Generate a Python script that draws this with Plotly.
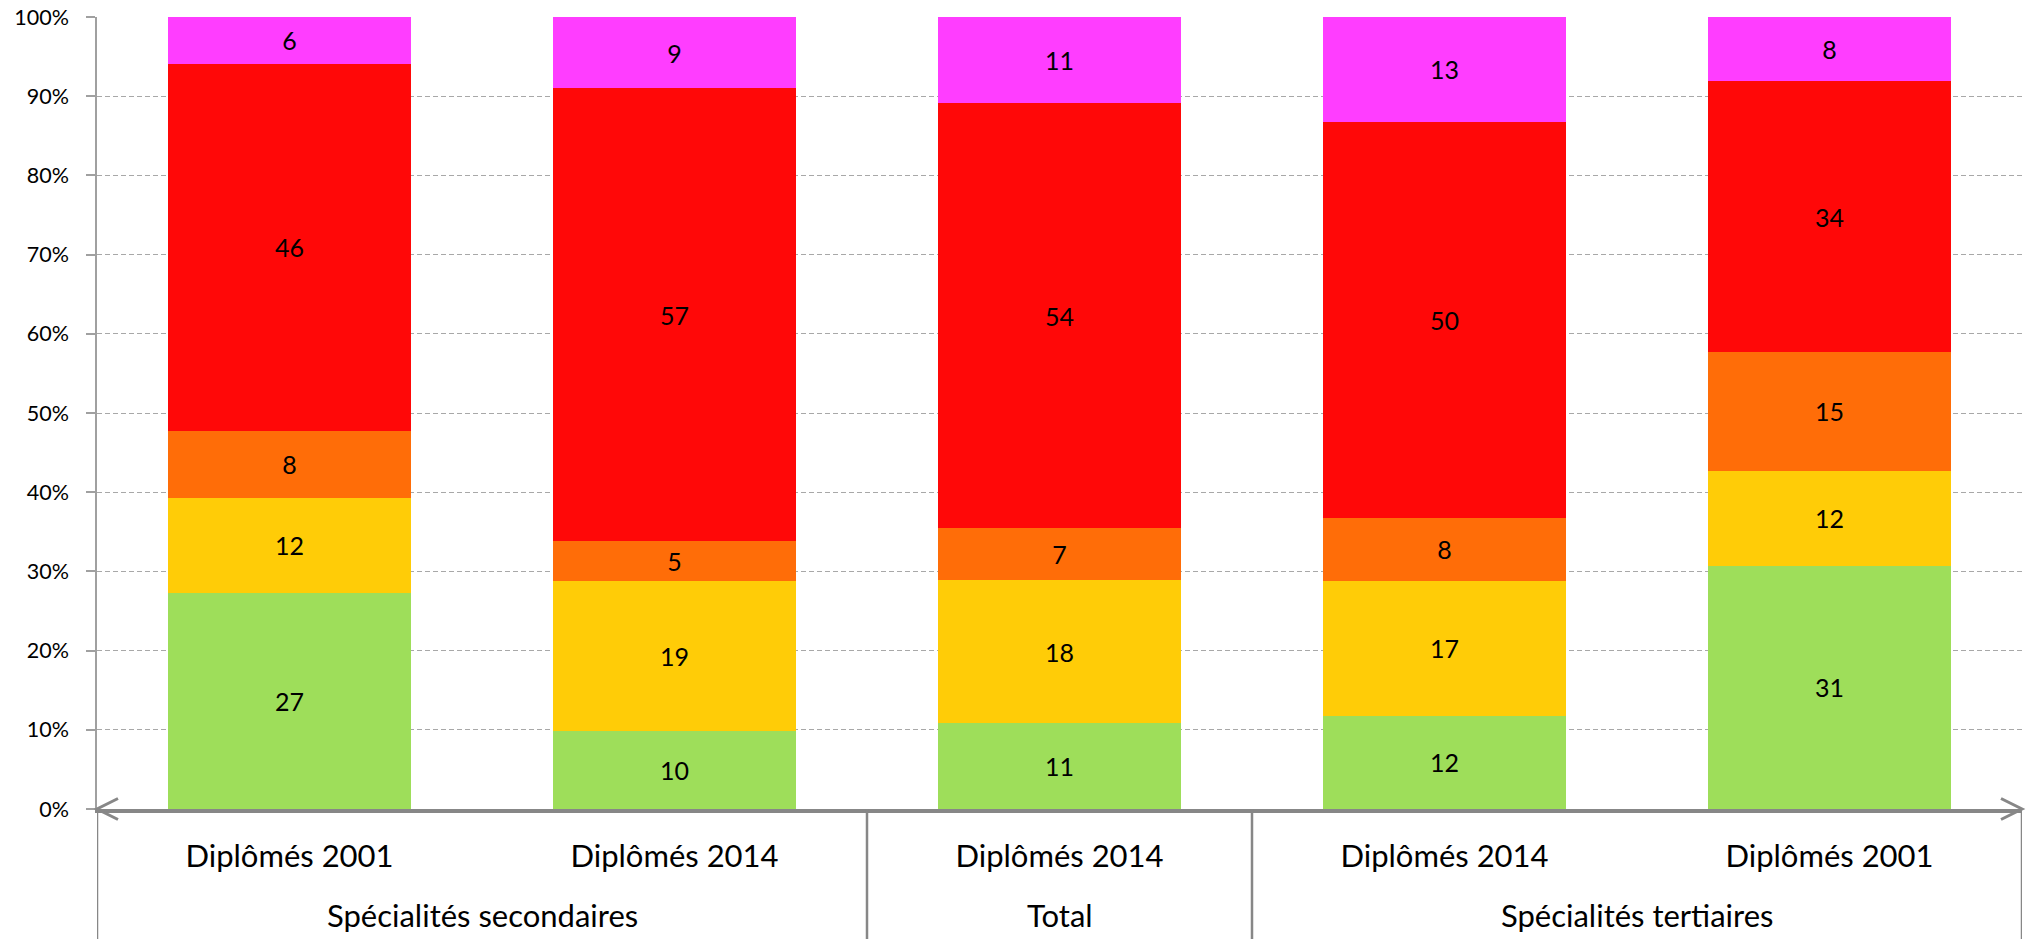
import plotly.graph_objects as go

groups = ["Spécialités secondaires", "Spécialités secondaires", "Total",
          "Spécialités tertiaires", "Spécialités tertiaires"]
categories = ["Diplômés 2001", "Diplômés 2014", "Diplômés 2014",
              "Diplômés 2014", "Diplômés 2001"]

series_names = ["Catégorie 1", "Catégorie 2", "Catégorie 3", "Catégorie 4", "Catégorie 5"]
green = [27.3, 9.8, 10.8, 11.8, 30.7]
yellow = [12.0, 19.0, 18.1, 17.0, 12.0]
orange = [8.4, 5.0, 6.6, 8.0, 15.0]
red = [46.4, 57.2, 53.6, 50.0, 34.2]
magenta = [5.9, 9.0, 10.9, 13.2, 8.1]

y_ticks = [0, 10, 20, 30, 40, 50, 60, 70, 80, 90, 100]
y_tick_labels = [f"{v}%" for v in y_ticks]

colors = ["#9EDE5A", "#FFCC07", "#FF6D08", "#FF0808", "#FF3DFF"]
series = [green, yellow, orange, red, magenta]

FONT = "Lato, Calibri, Carlito, sans-serif"
AXIS_GREY = "#878787"

x_pos = list(range(len(categories)))

fig = go.Figure()
for name, vals, col in zip(series_names, series, colors):
    fig.add_trace(go.Bar(
        x=x_pos,
        y=vals,
        name=name,
        customdata=categories,
        marker=dict(color=col, line=dict(width=0)),
        texttemplate="%{y:.0f}",
        textposition="inside",
        insidetextanchor="middle",
        textangle=0,
        textfont=dict(family=FONT, size=25, color="black"),
        constraintext="none",
    ))

# group spans (for the second-level labels and the dividers)
spans = []
start = 0
for i in range(1, len(groups) + 1):
    if i == len(groups) or groups[i] != groups[start]:
        spans.append((groups[start], start, i - 1))
        start = i

boundaries = sorted({s - 0.5 for _, s, _ in spans} | {e + 0.5 for _, _, e in spans})
for b in boundaries:
    fig.add_shape(type="line", xref="x", yref="paper", x0=b, x1=b, y0=0, y1=-0.2,
                  line=dict(color=AXIS_GREY, width=2.5), layer="above")

for name, s, e in spans:
    fig.add_annotation(x=(s + e) / 2, xref="x", y=0, yref="paper",
                       yanchor="middle", yshift=-106, showarrow=False,
                       text=name, font=dict(family=FONT, size=31, color="black"))

arrow_style = dict(color=AXIS_GREY, width=3)
fig.add_shape(type="path", xref="paper", yref="paper",
              xsizemode="pixel", ysizemode="pixel", xanchor=0, yanchor=0,
              path="M 21,10.5 L 0,0 L 21,-10.5", line=arrow_style)
fig.add_shape(type="path", xref="paper", yref="paper",
              xsizemode="pixel", ysizemode="pixel", xanchor=1, yanchor=0,
              path="M -21,10.5 L 0,0 L -21,-10.5", line=arrow_style)

fig.update_layout(
    barmode="stack",
    bargap=0.37,
    width=2032, height=939,
    margin=dict(l=97, r=10, t=17, b=130, autoexpand=False),
    paper_bgcolor="white",
    plot_bgcolor="white",
    showlegend=False,
    font=dict(family=FONT, size=22, color="black"),
    uniformtext=dict(minsize=25, mode="show"),
)
fig.update_yaxes(
    range=[0, 100],
    tickmode="array",
    tickvals=y_ticks,
    ticktext=y_tick_labels,
    automargin=False,
    ticklabeloverflow="allow",
    showline=True, linecolor="#A0A0A0", linewidth=1.5,
    ticks="outside", ticklen=9, tickcolor="#A0A0A0", tickwidth=1.5,
    ticklabelstandoff=13,
    showgrid=True, gridcolor="#A8A8A8", gridwidth=1.3, griddash="5px,3px",
    zeroline=False,
    tickfont=dict(family=FONT, size=21.5, color="black"),
)
fig.update_xaxes(
    range=[-0.5, len(categories) - 0.5],
    tickmode="array",
    tickvals=x_pos,
    ticktext=categories,
    automargin=False,
    ticklabeloverflow="allow",
    showline=True, linecolor=AXIS_GREY, linewidth=3.5,
    ticks="",
    showgrid=False,
    zeroline=False,
    ticklabelstandoff=17,
    tickfont=dict(family=FONT, size=31, color="black"),
)

fig.write_html("out.html", config={"displayModeBar": False},
               post_script="document.body.style.margin='0';")
